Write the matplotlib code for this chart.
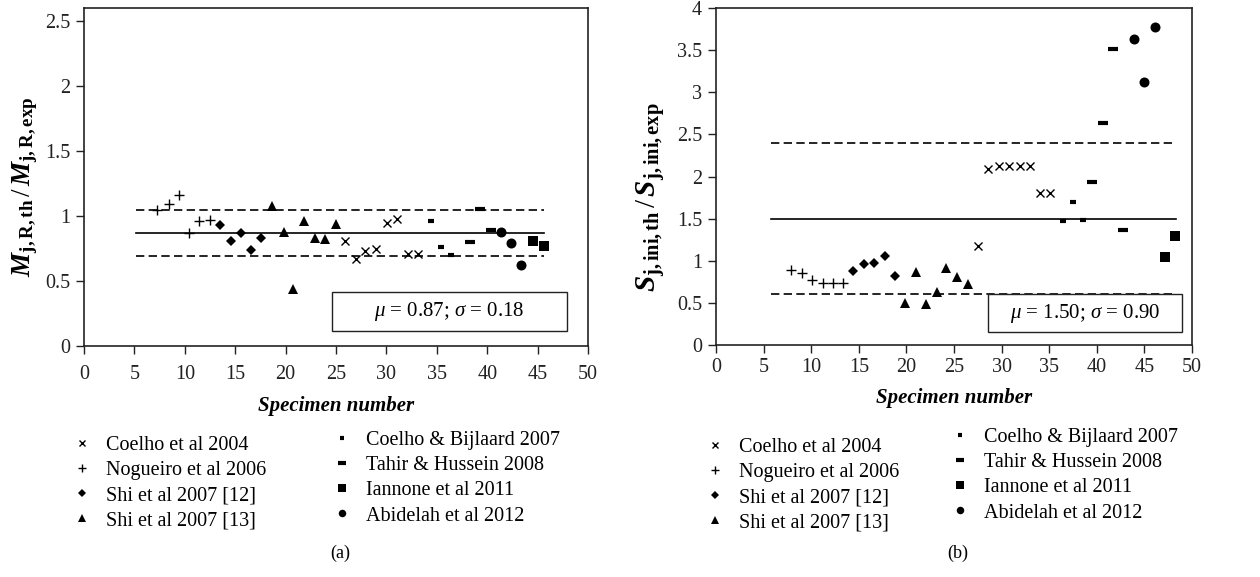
import matplotlib
matplotlib.use("Agg")
import matplotlib.pyplot as plt

plt.rcParams["font.family"] = ["Liberation Serif", "DejaVu Serif"]
plt.rcParams["mathtext.fontset"] = "custom"
plt.rcParams["mathtext.rm"] = "Liberation Serif"
plt.rcParams["mathtext.it"] = "Liberation Serif:italic"
plt.rcParams["mathtext.bf"] = "Liberation Serif:bold"
plt.rcParams["mathtext.bfit"] = "Liberation Serif:bold:italic"

# ---- series labels ----
series_labels = ["Coelho et al 2004", "Nogueiro et al 2006", "Shi et al 2007 [12]",
                 "Shi et al 2007 [13]", "Coelho & Bijlaard 2007", "Tahir & Hussein 2008",
                 "Iannone et al 2011", "Abidelah et al 2012"]

# ---- (a) moment resistance ratio ----
coelho04_x_a = [25.9, 27.0, 27.9, 29.0, 30.1, 31.1, 32.1, 33.1]
coelho04_y_a = [0.81, 0.67, 0.73, 0.75, 0.95, 0.98, 0.705, 0.705]
nogueiro_x_a = [7.2, 8.4, 9.4, 10.4, 11.4, 12.5]
nogueiro_y_a = [1.05, 1.09, 1.16, 0.87, 0.96, 0.97]
shi12_x_a = [13.5, 14.6, 15.6, 16.6, 17.6]
shi12_y_a = [0.93, 0.81, 0.87, 0.74, 0.83]
shi13_x_a = [18.7, 19.8, 20.7, 21.8, 22.9, 23.9, 25.0]
shi13_y_a = [1.08, 0.88, 0.44, 0.96, 0.83, 0.825, 0.94]
coelhob_x_a = [34.4, 35.4, 36.4]
coelhob_y_a = [0.96, 0.76, 0.70]
tahir_x_a = [38.3, 39.3, 40.4]
tahir_y_a = [0.80, 1.055, 0.89]
iannone_x_a = [44.5, 45.6]
iannone_y_a = [0.81, 0.77]
abidelah_x_a = [41.4, 42.4, 43.4]
abidelah_y_a = [0.88, 0.795, 0.625]
mu_a, sigma_a = 0.87, 0.18
stat_span_a = [5.2, 45.6]

# ---- (b) initial stiffness ratio ----
coelho04_x_b = [27.5, 28.6, 29.7, 30.8, 31.9, 33.0, 34.0, 35.1]
coelho04_y_b = [1.18, 2.09, 2.13, 2.13, 2.13, 2.13, 1.81, 1.81]
nogueiro_x_b = [7.9, 9.0, 10.1, 11.2, 12.3, 13.3]
nogueiro_y_b = [0.89, 0.85, 0.77, 0.73, 0.73, 0.74]
shi12_x_b = [14.4, 15.5, 16.6, 17.7, 18.8]
shi12_y_b = [0.88, 0.96, 0.97, 1.06, 0.82]
shi13_x_b = [19.9, 21.0, 22.1, 23.2, 24.2, 25.3, 26.5]
shi13_y_b = [0.50, 0.87, 0.49, 0.625, 0.91, 0.81, 0.72]
coelhob_x_b = [36.4, 37.5, 38.6]
coelhob_y_b = [1.47, 1.70, 1.48]
tahir_x_b = [39.5, 40.6, 41.7, 42.8]
tahir_y_b = [1.93, 2.635, 3.51, 1.36]
iannone_x_b = [47.2, 48.2]
iannone_y_b = [1.04, 1.29]
abidelah_x_b = [43.9, 45.0, 46.1]
abidelah_y_b = [3.63, 3.125, 3.77]
mu_b, sigma_b = 1.50, 0.90
stat_span_b = [5.8, 48.3]

x_ticks = list(range(0, 51, 5))
y_ticks_a = [0, 0.5, 1, 1.5, 2, 2.5]
y_ticks_b = [0, 0.5, 1, 1.5, 2, 2.5, 3, 3.5, 4]

# marker styles per series
styles = [
    dict(marker="x", ms=6, mew=1.0),
    dict(marker="+", ms=7, mew=1.0),
    dict(marker="D", ms=5, mew=0),
    dict(marker="^", ms=7, mew=0),
    dict(marker="_", ms=4, mew=3.0),
    dict(marker="_", ms=7.5, mew=3.0),
    dict(marker="s", ms=6.8, mew=0),
    dict(marker="o", ms=7.2, mew=0),
]

FS = 14.5
fig = plt.figure(figsize=(12.6, 5.77), dpi=100)
W, H = 1260, 577


def fig_rect(l, t, r, b):
    return [l / W, 1 - b / H, (r - l) / W, (b - t) / H]


def panel(rect, xs, ys, mu, sigma, span, ylim, yticks, ylabel, ylab_fs, stat_text,
          box, ylab_xy, xpad):
    ax = fig.add_axes(fig_rect(*rect))
    handles = []
    for x, y, st, lab in zip(xs, ys, styles, series_labels):
        h, = ax.plot(x, y, linestyle="none", color="black", markeredgecolor="black",
                     markerfacecolor="black", label=lab, zorder=4, **st)
        handles.append(h)
    ax.plot(span, [mu, mu], color="black", lw=1.2, zorder=2)
    for v in (mu - sigma, mu + sigma):
        ax.plot(span, [v, v], color="black", lw=1.2, dashes=(5, 2.6), zorder=2)
    ax.set_xlim(0, 50)
    ax.set_ylim(*ylim)
    ax.set_xticks(x_ticks)
    ax.set_yticks(yticks)
    ax.set_yticklabels([f"{t:g}" for t in yticks])
    ax.tick_params(direction="out", length=6, width=1.0, labelsize=FS, pad=4,
                   colors="#222222")
    ax.tick_params(axis="x", pad=xpad)
    for s in ax.spines.values():
        s.set_linewidth(1.2)
        s.set_color("#222222")
    ax.set_xlabel("Specimen number", fontsize=FS + 0.5, fontweight="bold",
                  fontstyle="italic", labelpad=8)
    ax.set_ylabel(ylabel, fontsize=ylab_fs)
    ax.yaxis.set_label_coords(*ylab_xy)
    # statistics box
    bx0, by0, bx1, by1 = box
    ax.add_patch(plt.Rectangle((bx0, by0), bx1 - bx0, by1 - by0, facecolor="white",
                               edgecolor="#222222", lw=1.0, zorder=5))
    ax.text((bx0 + bx1) / 2, (by0 + by1) / 2, stat_text, ha="center", va="center",
            fontsize=FS + 0.5, zorder=6)
    return ax, handles


ax_a, h_a = panel((84, 8, 588, 346),
                  [coelho04_x_a, nogueiro_x_a, shi12_x_a, shi13_x_a, coelhob_x_a, tahir_x_a,
                   iannone_x_a, abidelah_x_a],
                  [coelho04_y_a, nogueiro_y_a, shi12_y_a, shi13_y_a, coelhob_y_a, tahir_y_a,
                   iannone_y_a, abidelah_y_a],
                  mu_a, sigma_a, stat_span_a, (0, 2.6), y_ticks_a,
                  r"$\mathbfit{M}_{\mathbf{j,R,th}}\,/\,\mathbfit{M}_{\mathbf{j,R,exp}}$", 19.5,
                  r"$\mu$ = %.2f; $\sigma$ = %.2f" % (mu_a, sigma_a),
                  (24.6, 0.115, 47.9, 0.415), (-0.088, 0.47), 8)

ax_b, h_b = panel((716, 8, 1192, 345),
                  [coelho04_x_b, nogueiro_x_b, shi12_x_b, shi13_x_b, coelhob_x_b, tahir_x_b,
                   iannone_x_b, abidelah_x_b],
                  [coelho04_y_b, nogueiro_y_b, shi12_y_b, shi13_y_b, coelhob_y_b, tahir_y_b,
                   iannone_y_b, abidelah_y_b],
                  mu_b, sigma_b, stat_span_b, (0, 4), y_ticks_b,
                  r"$\mathbfit{S}_{\mathbf{j,ini,th}}\,/\,\mathbfit{S}_{\mathbf{j,ini,exp}}$", 21,
                  r"$\mu$ = %.2f; $\sigma$ = %.2f" % (mu_b, sigma_b),
                  (28.6, 0.15, 49.0, 0.60), (-0.103, 0.44), 3)


def add_legends(handles, col1_xy, col2_xy):
    kw = dict(frameon=False, fontsize=FS, handlelength=1.0, handletextpad=0.7,
              labelspacing=0.3, borderpad=0, borderaxespad=0, loc="upper left",
              markerscale=0.75)
    l1 = fig.legend(handles[:4], series_labels[:4],
                    bbox_to_anchor=(col1_xy[0] / W, 1 - col1_xy[1] / H), **kw)
    l2 = fig.legend(handles[4:], series_labels[4:],
                    bbox_to_anchor=(col2_xy[0] / W, 1 - col2_xy[1] / H), **kw)
    return l1, l2


add_legends(h_a, (72, 436), (332, 431))
add_legends(h_b, (705, 438), (950, 428))

fig.text(340 / W, 1 - 553 / H, "(a)", ha="center", va="center", fontsize=FS - 1.5)
fig.text(958 / W, 1 - 553 / H, "(b)", ha="center", va="center", fontsize=FS - 1.5)

fig.savefig("out.png", dpi=100)
